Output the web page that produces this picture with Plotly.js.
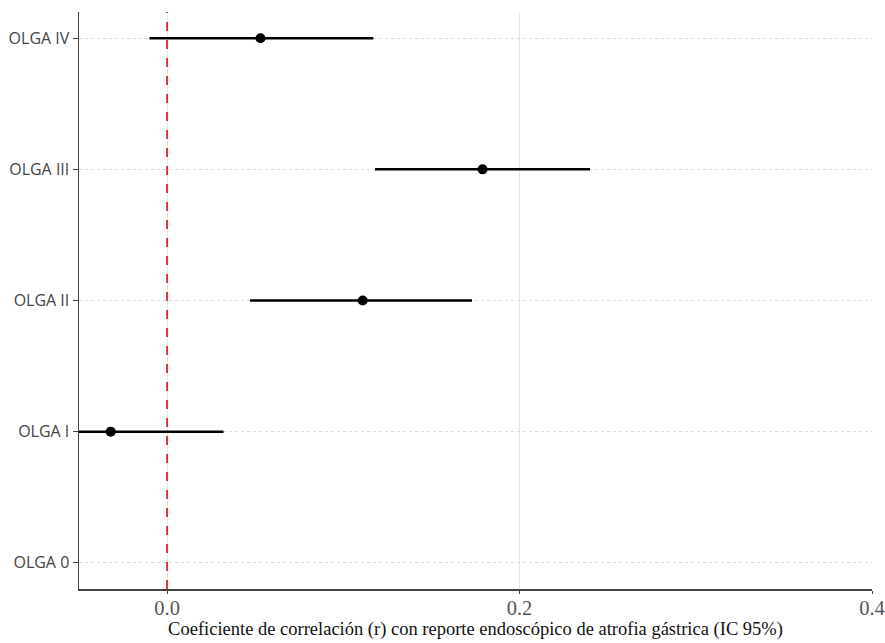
<!DOCTYPE html>
<html>
<head>
<meta charset="utf-8">
<script src="https://cdn.plot.ly/plotly-3.0.1.min.js"></script>
<style>html,body{margin:0;padding:0;background:#fff;}#chart{width:885px;height:643px;}</style>
</head>
<body>
<div id="chart"></div>
<script>
// Data
const categories = ["OLGA 0", "OLGA I", "OLGA II", "OLGA III", "OLGA IV"];
const r_values   = [null, -0.032, 0.111, 0.179, 0.053];
const ci_lower   = [null, -0.095, 0.047, 0.118, -0.010];
const ci_upper   = [null, 0.032, 0.173, 0.240, 0.117];
const referenceR = 0;
const xTickVals  = [0.0, 0.2, 0.4];
const xTickText  = ["0.0", "0.2", "0.4"];

const yPos = categories.map((_, i) => i);
const errPlus  = r_values.map((v, i) => v === null ? null : ci_upper[i] - v);
const errMinus = r_values.map((v, i) => v === null ? null : v - ci_lower[i]);

const trace = {
  type: "scatter",
  mode: "markers",
  x: r_values,
  y: yPos,
  marker: {color: "#000000", size: 10},
  error_x: {
    type: "data", symmetric: false,
    array: errPlus, arrayminus: errMinus,
    color: "#000000", thickness: 2.5, width: 0
  },
  hoverinfo: "x+y",
  showlegend: false,
  cliponaxis: true
};

const layout = {
  width: 885, height: 643,
  margin: {l: 79, r: 13, t: 12, b: 54},
  paper_bgcolor: "#ffffff",
  plot_bgcolor: "#ffffff",
  showlegend: false,
  xaxis: {
    range: [-0.05, 0.4],
    tickvals: xTickVals, ticktext: xTickText,
    tickfont: {family: "Liberation Serif, Times New Roman, serif", size: 20.5, color: "#555555"},
    ticklabeloverflow: "allow",
    ticklabelstandoff: -3,
    ticks: "outside", ticklen: 3, tickcolor: "#444444", tickwidth: 1,
    showline: true, linecolor: "#444444", linewidth: 1.5,
    showgrid: true, gridcolor: "#e6e6e6", gridwidth: 1,
    zeroline: false,
    automargin: false,
    title: {text: "Coeficiente de correlación (r) con reporte endoscópico de atrofia gástrica (IC 95%)",
            font: {family: "Liberation Serif, Times New Roman, serif", size: 18.5, color: "#111111"},
            standoff: 2}
  },
  yaxis: {
    range: [-0.2, 4.2],
    tickvals: yPos, ticktext: categories,
    tickfont: {family: "Open Sans, Noto Sans, sans-serif", size: 16, color: "#444444"},
    ticks: "outside", ticklen: 5, tickcolor: "#444444", tickwidth: 1,
    showline: true, linecolor: "#444444", linewidth: 1.5,
    showgrid: true, gridcolor: "#dddddd", gridwidth: 1, griddash: "dot",
    zeroline: false
  },
  shapes: [{
    type: "line", xref: "x", yref: "paper",
    x0: referenceR, x1: referenceR, y0: 0, y1: 1,
    line: {color: "#d8333f", width: 2, dash: "dash"},
    layer: "above"
  }]
};

Plotly.newPlot("chart", [trace], layout, {displayModeBar: false, staticPlot: true});
</script>
</body>
</html>
